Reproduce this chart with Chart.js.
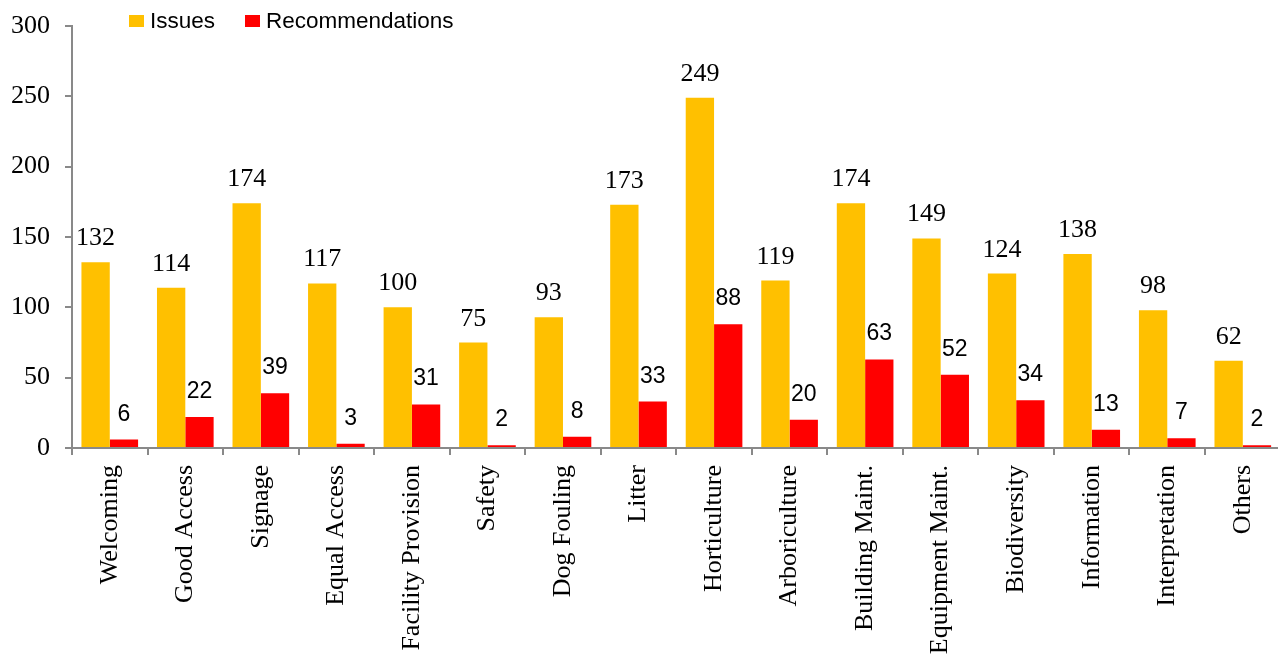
<!DOCTYPE html>
<html>
<head>
<meta charset="utf-8">
<script src="https://cdn.jsdelivr.net/npm/chart.js@4"></script>
<style>
    html, body { margin: 0; padding: 0; background: #fff; overflow: hidden; }
    #wrap { position: relative; width: 1284px; height: 657px; }
    #legend { position: absolute; left: 129px; top: 8px; display: flex; font-family: "Liberation Sans", Arial, sans-serif; font-size: 22.5px; color: #000; }
    #legend .item { display: flex; align-items: center; margin-right: 30px; }
    #legend .box { width: 15px; height: 12px; margin-right: 6px; }
</style>
</head>
<body>
<div id="wrap">
    <canvas id="chart" width="1284" height="657"></canvas>
    <div id="legend"></div>
</div>
<script>
// 数据
const categories = ['Welcoming', 'Good Access', 'Signage', 'Equal Access', 'Facility Provision', 'Safety',
    'Dog Fouling', 'Litter', 'Horticulture', 'Arboriculture', 'Building Maint.', 'Equipment Maint.',
    'Biodiversity', 'Information', 'Interpretation', 'Others'];
const issues = [132, 114, 174, 117, 100, 75, 93, 173, 249, 119, 174, 149, 124, 138, 98, 62];
const recommendations = [6, 22, 39, 3, 31, 2, 8, 33, 88, 20, 63, 52, 34, 13, 7, 2];
const yTicks = [0, 50, 100, 150, 200, 250, 300];

const serif = '"Liberation Serif", "Times New Roman", serif';
const sans = '"Liberation Sans", Arial, sans-serif';
const axisColor = '#898989';

// 柱顶数值标签
const valueLabels = {
    id: 'valueLabels',
    afterDatasetsDraw(chart) {
        const ctx = chart.ctx;
        ctx.save();
        ctx.fillStyle = '#000';
        ctx.textAlign = 'center';
        ctx.textBaseline = 'alphabetic';
        chart.data.datasets.forEach((ds, i) => {
            ctx.font = ds.labelFont;
            chart.getDatasetMeta(i).data.forEach((bar, j) => {
                ctx.fillText(ds.data[j], bar.x, bar.y - ds.labelGap);
            });
        });
        ctx.restore();
    }
};

const datasets = [
    {
        label: 'Issues',
        data: issues,
        backgroundColor: '#FFC000',
        labelFont: '26px ' + serif,
        labelGap: 17
    },
    {
        label: 'Recommendations',
        data: recommendations,
        backgroundColor: '#FF0000',
        labelFont: '23px ' + sans,
        labelGap: 19
    }
];

const chart = new Chart(document.getElementById('chart').getContext('2d'), {
    type: 'bar',
    data: { labels: categories, datasets: datasets },
    options: {
        responsive: false,
        animation: false,
        categoryPercentage: 0.75,
        barPercentage: 1.0,
        layout: { padding: { top: 26, right: 0, left: 0, bottom: 0 } },
        plugins: {
            legend: { display: false },
            tooltip: { enabled: false }
        },
        scales: {
            x: {
                grid: { drawOnChartArea: false, drawTicks: true, tickLength: 7, color: axisColor, lineWidth: 2 },
                border: { color: axisColor, width: 2 },
                ticks: {
                    autoSkip: false,
                    maxRotation: 90,
                    minRotation: 90,
                    padding: 10,
                    color: '#000',
                    font: { family: serif, size: 26 }
                },
                afterFit(scale) { scale.height = 657 - 448; }
            },
            y: {
                min: 0,
                max: 300,
                grid: { drawOnChartArea: false, drawTicks: true, tickLength: 7, color: axisColor, lineWidth: 2 },
                border: { color: axisColor, width: 2 },
                afterBuildTicks(scale) { scale.ticks = yTicks.map(v => ({ value: v })); },
                ticks: {
                    padding: 15,
                    color: '#000',
                    font: { family: serif, size: 26, lineHeight: 0.8 }
                },
                afterFit(scale) { scale.width = 72; }
            }
        }
    },
    plugins: [valueLabels]
});

// 图例
const legend = document.getElementById('legend');
datasets.forEach(ds => {
    const item = document.createElement('div');
    item.className = 'item';
    const box = document.createElement('span');
    box.className = 'box';
    box.style.background = ds.backgroundColor;
    const text = document.createElement('span');
    text.textContent = ds.label;
    item.appendChild(box);
    item.appendChild(text);
    legend.appendChild(item);
});
</script>
</body>
</html>
